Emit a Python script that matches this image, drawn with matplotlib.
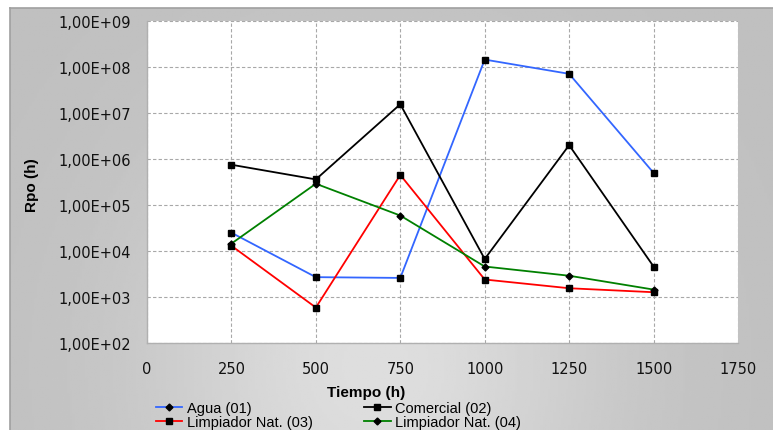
import matplotlib
matplotlib.use('Agg')
import matplotlib.pyplot as plt
from matplotlib.lines import Line2D
from matplotlib.ticker import FixedLocator, FuncFormatter
import numpy as np

# data
tiempo = [250, 500, 750, 1000, 1250, 1500]
agua_01 = [2.5e4, 2.7e3, 2.6e3, 1.45e8, 7.1e7, 5.0e5]
comercial_02 = [7.5e5, 3.6e5, 1.55e7, 6.7e3, 2.0e6, 4.6e3]
limpiador_03 = [1.3e4, 5.9e2, 4.5e5, 2.4e3, 1.55e3, 1.27e3]
limpiador_04 = [1.45e4, 2.9e5, 5.9e4, 4.6e3, 2.9e3, 1.45e3]

series_names = ['Agua (01)', 'Comercial (02)', 'Limpiador Nat. (03)', 'Limpiador Nat. (04)']
series_colors = ['#3366ff', '#000000', '#ff0000', '#008000']
x_ticks = [0, 250, 500, 750, 1000, 1250, 1500, 1750]
y_ticks = [1e2, 1e3, 1e4, 1e5, 1e6, 1e7, 1e8, 1e9]

W, H = 773, 431
fig = plt.figure(figsize=(W / 100, H / 100), dpi=100)
fig.patch.set_facecolor('white')

# grey gradient background panel
bg = fig.add_axes([10 / W, 0, 1 - 10 / W, 1 - 9 / H])
gx, gy = np.meshgrid(np.linspace(0, 1, 300), np.linspace(0, 1, 200))
shade = 0.75 + 0.12 * np.exp(-((gx - 0.48) ** 2) / 0.09 - ((gy - 0.85) ** 2) / 0.35)
bg.imshow(shade, cmap='gray', vmin=0, vmax=1, aspect='auto', extent=[0, 1, 1, 0])
bg.set_xticks([])
bg.set_yticks([])
for side in ['right', 'bottom']:
    bg.spines[side].set_visible(False)
for side in ['left', 'top']:
    bg.spines[side].set_color('#a0a0a0')
    bg.spines[side].set_linewidth(1.2)

ax = fig.add_axes([147 / W, 1 - 344 / H, (738 - 147) / W, (344 - 22) / H])
ax.set_facecolor('white')

ax.plot(tiempo, agua_01, color=series_colors[0], lw=1.3, marker='s', ms=5,
        mfc='black', mec='black', zorder=3)
ax.plot(tiempo, comercial_02, color=series_colors[1], lw=1.3, marker='s', ms=5,
        mfc='black', mec='black', zorder=3)
ax.plot(tiempo, limpiador_03, color=series_colors[2], lw=1.3, marker='s', ms=5,
        mfc='black', mec='black', zorder=3)
ax.plot(tiempo, limpiador_04, color=series_colors[3], lw=1.3, marker='D', ms=3.5,
        mfc='black', mec='black', zorder=3)

ax.set_yscale('log')
ax.set_xlim(0, 1750)
ax.set_ylim(1e2, 1e9)
ax.xaxis.set_major_locator(FixedLocator(x_ticks))
ax.yaxis.set_major_locator(FixedLocator(y_ticks))
ax.yaxis.set_minor_locator(FixedLocator([]))
ax.yaxis.set_major_formatter(FuncFormatter(
    lambda v, p: '1,00E+%02d' % int(round(np.log10(v)))))
ax.tick_params(axis='both', length=0, labelsize=10.5, colors='#111111')
ax.tick_params(axis='x', pad=13)
ax.tick_params(axis='y', pad=11.5)
for lbl in ax.get_xticklabels() + ax.get_yticklabels():
    lbl.set_family('DejaVu Sans')

ax.grid(True, which='major', color='#a8a8a8', linestyle=(0, (3, 2)), lw=0.8)
ax.set_axisbelow(True)
for side in ['top', 'right']:
    ax.spines[side].set_visible(False)
for side in ['left', 'bottom']:
    ax.spines[side].set_color('#b0b0b0')
    ax.spines[side].set_linewidth(1.0)

fig.text(32 / W, 1 - 185 / H, 'Rpo (h)', rotation=90, ha='center', va='center',
         fontsize=11, fontweight='bold', family='Liberation Sans')
fig.text(366 / W, 1 - 393 / H, 'Tiempo (h)', ha='center', va='center',
         fontsize=11, fontweight='bold', family='Liberation Sans')

handles = {
    'Agua (01)': Line2D([], [], color=series_colors[0], lw=1.3, marker='D', ms=3.5,
                        mfc='black', mec='black'),
    'Comercial (02)': Line2D([], [], color=series_colors[1], lw=1.3, marker='s', ms=5,
                             mfc='black', mec='black'),
    'Limpiador Nat. (03)': Line2D([], [], color=series_colors[2], lw=1.3, marker='s', ms=5,
                                  mfc='black', mec='black'),
    'Limpiador Nat. (04)': Line2D([], [], color=series_colors[3], lw=1.3, marker='D', ms=3.5,
                                  mfc='black', mec='black'),
}
# legend fills column-wise, so order for row layout
order = [series_names[0], series_names[2], series_names[1], series_names[3]]
fig.legend([handles[n] for n in order], order, loc='upper left', ncol=2,
           bbox_to_anchor=(156 / W, 1 - 402 / H), frameon=False,
           prop={'family': 'Liberation Sans', 'size': 10.5},
           handlelength=1.8, handletextpad=0.3, columnspacing=3.55,
           labelspacing=0.0, borderpad=0, borderaxespad=0)

plt.savefig('out.png', dpi=100, facecolor='white')
plt.close()
